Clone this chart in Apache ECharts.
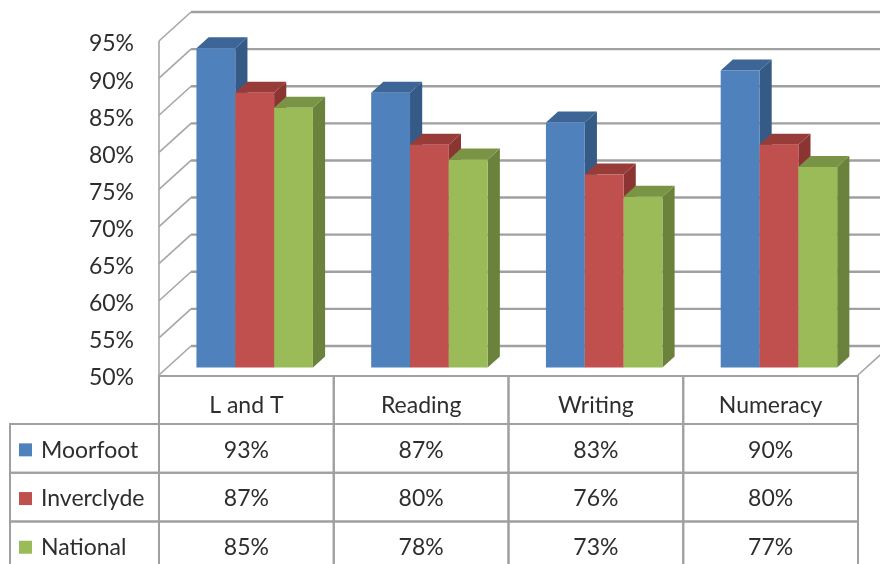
<!DOCTYPE html>
<html>
<head>
<meta charset="utf-8">
<script src="https://cdn.jsdelivr.net/npm/echarts@6/dist/echarts.min.js"></script>
<style>
  html, body { margin: 0; padding: 0; background: #ffffff; }
  #chart { width: 880px; height: 564px; }
</style>
</head>
<body>
<div id="chart"></div>
<script>
// Subject categories and percentage results per area
const categories = ['L and T', 'Reading', 'Writing', 'Numeracy'];
const seriesNames = ['Moorfoot', 'Inverclyde', 'National'];
const moorfoot = [93, 87, 83, 90];
const inverclyde = [87, 80, 76, 80];
const national = [85, 78, 73, 77];
const yTicks = [50, 55, 60, 65, 70, 75, 80, 85, 90, 95];

const seriesValues = [moorfoot, inverclyde, national];

// Face colours for the pseudo-3D columns
const palette = [
  { front: '#4F81BD', top: '#3D6595', side: '#365A86' },
  { front: '#C0504D', top: '#983C3A', side: '#8A3532' },
  { front: '#9BBB59', top: '#7A9445', side: '#6A823B' }
];

// Oblique depth of the floor (front edge -> back wall), in pixels
const DEPTH = [32, -29];
const BAR_NEAR = 0.26, BAR_FAR = 0.64;   // depth slice occupied by the columns
const TABLE_TOP = 376, HEADER_H = 48, ROW_H = 48.7, LABEL_COL_W = 149;
const GRID_COLOR = '#a0a0a0';
const EDGE_COLOR = '#a6a6a6';
const TEXT_COLOR = '#2e2e2e';
const FONT = 'Lato';
const FONT_SIZE = 23;
const TICK_LABEL_GAP = 25;

function barRenderer(k) {
  return function (params, api) {
    const cat = api.value(0), val = api.value(1);
    const bw = api.size([1, 0])[0];
    const barW = bw / 4.5;
    const c = api.coord([cat, val]);
    const base = api.coord([cat, yTicks[0]]);
    const ox = DEPTH[0] * BAR_NEAR, oy = DEPTH[1] * BAR_NEAR;
    const dx = DEPTH[0] * (BAR_FAR - BAR_NEAR), dy = DEPTH[1] * (BAR_FAR - BAR_NEAR);
    const x = c[0] - 1.5 * barW + k * barW + ox;
    const yt = c[1] + oy, yb = base[1] + oy;
    const col = palette[k];
    return {
      type: 'group',
      children: [
        { type: 'polygon', shape: { points: [[x + barW, yt], [x + barW + dx, yt + dy], [x + barW + dx, yb + dy], [x + barW, yb]] }, style: { fill: col.side } },
        { type: 'polygon', shape: { points: [[x, yt], [x + barW, yt], [x + barW + dx, yt + dy], [x + dx, yt + dy]] }, style: { fill: col.top } },
        { type: 'rect', shape: { x: x, y: yt, width: barW, height: yb - yt }, style: { fill: col.front } }
      ]
    };
  };
}

// Back-wall gridlines, side-wall diagonals and the percentage labels, one per tick
function wallRenderer(params, api) {
  const v = api.value(1);
  const cs = params.coordSys;
  const y = api.coord([0, v])[1];
  const x0 = cs.x, x1 = cs.x + cs.width;
  const dx = DEPTH[0], dy = DEPTH[1];
  const children = [
    { type: 'line', shape: { x1: x0, y1: y, x2: x0 + dx, y2: y + dy }, style: { stroke: EDGE_COLOR, lineWidth: 1.6 } },
    { type: 'line', shape: { x1: x0 + dx, y1: y + dy, x2: x1 + dx, y2: y + dy }, style: { stroke: GRID_COLOR, lineWidth: 2.4 } },
    { type: 'text', style: { text: v + '%', x: x0 - TICK_LABEL_GAP, y: y + 3, align: 'right', verticalAlign: 'middle',
                             fontFamily: FONT, fontSize: FONT_SIZE, fill: TEXT_COLOR } }
  ];
  if (v === yTicks[0]) {
    const yTop = api.coord([0, yTicks[yTicks.length - 1]])[1];
    children.push({ type: 'line', shape: { x1: x0, y1: yTop, x2: x0, y2: y }, style: { stroke: EDGE_COLOR, lineWidth: 1.6 } });
    children.push({ type: 'line', shape: { x1: x1, y1: y, x2: x1 + dx, y2: y + dy }, style: { stroke: EDGE_COLOR, lineWidth: 1.6 } });
  }
  return { type: 'group', children: children };
}

function cellText(text, x, y, align) {
  return {
    type: 'text',
    style: { text: text, x: x, y: y, align: align || 'center', verticalAlign: 'middle',
             fontFamily: FONT, fontSize: FONT_SIZE, fill: TEXT_COLOR }
  };
}

function cellBox(x, y, w, h) {
  return { type: 'rect', shape: { x: x, y: y, width: w, height: h },
           style: { fill: 'none', stroke: GRID_COLOR, lineWidth: 2 } };
}

// Data table under the plot: one column per category, plus the legend column
function tableRenderer(params, api) {
  const i = api.value(0);
  const bw = api.size([1, 0])[0];
  const cx = api.coord([i, yTicks[0]])[0];
  const left = cx - bw / 2;
  const children = [];
  children.push(cellBox(left, TABLE_TOP, bw, HEADER_H));
  children.push(cellText(categories[i], cx, TABLE_TOP + HEADER_H / 2 + 6));
  for (let r = 0; r < seriesValues.length; r++) {
    const ry = TABLE_TOP + HEADER_H + r * ROW_H;
    children.push(cellBox(left, ry, bw, ROW_H));
    children.push(cellText(seriesValues[r][i] + '%', cx, ry + ROW_H / 2 + 2));
  }
  if (i === 0) {
    const lx = left - LABEL_COL_W;
    for (let r = 0; r < seriesNames.length; r++) {
      const ry = TABLE_TOP + HEADER_H + r * ROW_H;
      children.push(cellBox(lx, ry, LABEL_COL_W, ROW_H));
      children.push({ type: 'rect', shape: { x: lx + 9, y: ry + ROW_H / 2 - 5, width: 13, height: 13 },
                      style: { fill: palette[r].front } });
      children.push(cellText(seriesNames[r], lx + 31, ry + ROW_H / 2 + 2, 'left'));
    }
  }
  return { type: 'group', children: children };
}

const chart = echarts.init(document.getElementById('chart'), null, { renderer: 'canvas' });

const series = [
  {
    type: 'custom',
    name: 'walls',
    renderItem: wallRenderer,
    data: yTicks.map(v => [0, v]),
    silent: true,
    z: 1
  }
];
seriesNames.forEach((name, k) => {
  series.push({
    type: 'custom',
    name: name,
    renderItem: barRenderer(k),
    data: seriesValues[k].map((v, i) => [i, v]),
    z: 2
  });
});
series.push({
  type: 'custom',
  name: 'table',
  renderItem: tableRenderer,
  data: categories.map((c, i) => [i, yTicks[0]]),
  silent: true,
  z: 3
});

chart.setOption({
  animation: false,
  backgroundColor: '#ffffff',
  textStyle: { fontFamily: FONT },
  grid: { left: 159, right: 22, top: 41, bottom: 189 },
  xAxis: {
    type: 'category',
    data: categories,
    show: false
  },
  yAxis: {
    type: 'value',
    min: yTicks[0],
    max: yTicks[yTicks.length - 1],
    interval: 5,
    axisLine: { show: false },
    axisTick: { show: false },
    splitLine: { show: false },
    axisLabel: { show: false }
  },
  series: series
});
</script>
</body>
</html>
